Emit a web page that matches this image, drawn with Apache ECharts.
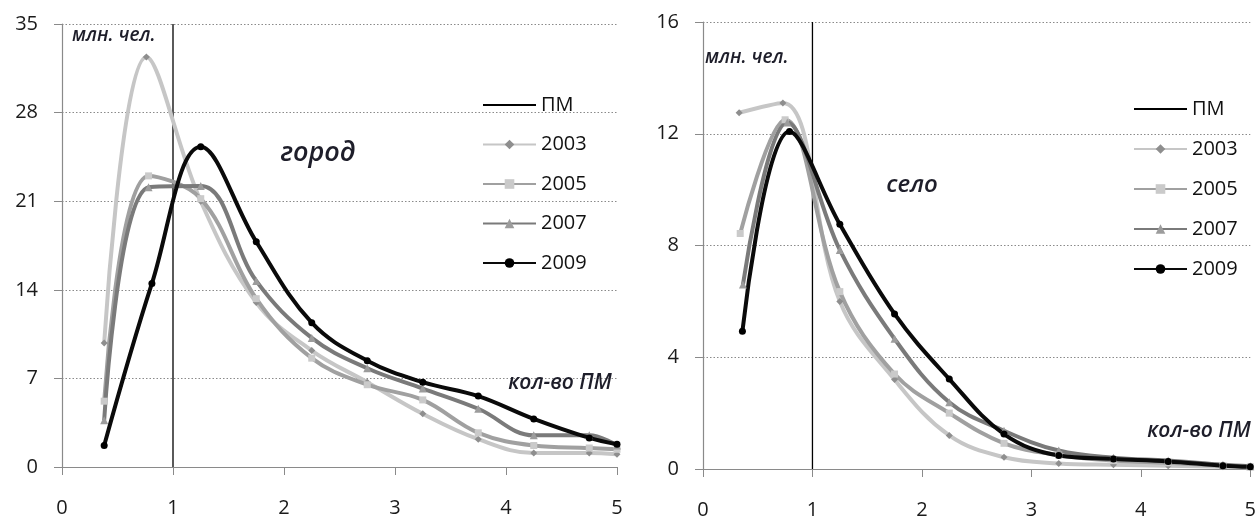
<!DOCTYPE html>
<html><head><meta charset="utf-8">
<script src="https://cdn.jsdelivr.net/npm/echarts@6/dist/echarts.min.js"></script>
<style>html,body{margin:0;padding:0;background:#fff}#c{width:1259px;height:521px}</style>
</head><body><div id="c"></div>
<script>
// ---- data ----
const years = ['2003', '2005', '2007', '2009'];
const pmName = 'ПМ';
const pmX = 1;
const cityYMax = 35, cityYStep = 7;
const villageYMax = 16, villageYStep = 4;
const xMax = 5, xStep = 1;

// город
const cityX2003 = [0.38, 0.76, 1.25, 1.75, 2.25, 2.75, 3.25, 3.75, 4.25, 4.75, 5];
const cityY2003 = [9.8, 32.4, 21.0, 13.0, 9.2, 6.7, 4.2, 2.2, 1.1, 1.1, 1.0];
const cityX2005 = [0.38, 0.78, 1.25, 1.75, 2.25, 2.75, 3.25, 3.75, 4.25, 4.75, 5];
const cityY2005 = [5.2, 23.0, 21.2, 13.3, 8.6, 6.5, 5.3, 2.7, 1.7, 1.5, 1.4];
const cityX2007 = [0.38, 0.78, 1.25, 1.75, 2.25, 2.75, 3.25, 3.75, 4.25, 4.75, 5];
const cityY2007 = [3.7, 22.1, 22.2, 14.7, 10.2, 7.8, 6.2, 4.6, 2.5, 2.5, 1.7];
const cityX2009 = [0.38, 0.81, 1.25, 1.75, 2.25, 2.75, 3.25, 3.75, 4.25, 4.75, 5];
const cityY2009 = [1.7, 14.5, 25.3, 17.8, 11.4, 8.4, 6.7, 5.6, 3.8, 2.3, 1.8];

// село
const villX2003 = [0.33, 0.73, 1.25, 1.75, 2.25, 2.75, 3.25, 3.75, 4.25, 4.75, 5];
const villY2003 = [12.75, 13.1, 6.0, 3.2, 1.2, 0.42, 0.2, 0.15, 0.12, 0.08, 0.06];
const villX2005 = [0.34, 0.75, 1.25, 1.75, 2.25, 2.75, 3.25, 3.75, 4.25, 4.75, 5];
const villY2005 = [8.43, 12.5, 6.35, 3.4, 2.0, 0.92, 0.5, 0.3, 0.22, 0.12, 0.08];
const villX2007 = [0.365, 0.77, 1.25, 1.75, 2.25, 2.75, 3.25, 3.75, 4.25, 4.75, 5];
const villY2007 = [6.6, 12.4, 7.84, 4.66, 2.39, 1.37, 0.66, 0.4, 0.3, 0.15, 0.1];
const villX2009 = [0.36, 0.79, 1.25, 1.75, 2.25, 2.75, 3.25, 3.75, 4.25, 4.75, 5];
const villY2009 = [4.93, 12.08, 8.76, 5.55, 3.22, 1.25, 0.48, 0.36, 0.27, 0.12, 0.08];

const labels = {
  unit: 'млн. чел.',
  city: 'город',
  village: 'село',
  xName: 'кол-во ПМ'
};

// ---- styles ----
const FONT = '"Open Sans", "Noto Sans", sans-serif';
const styles = {
  '2003': { line: '#c6c6c6', sym: 'diamond', symColor: '#8e8e8e', size: 7 },
  '2005': { line: '#a0a0a0', sym: 'rect', symColor: '#cacaca', size: 7 },
  '2007': { line: '#7a7a7a', sym: 'triangle', symColor: '#9c9c9c', size: 8 },
  '2009': { line: '#0a0a0a', sym: 'circle', symColor: '#000000', size: 7 }
};

function pairs(xs, ys) { return xs.map((x, i) => [x, ys[i]]); }

const cityData = { '2003': pairs(cityX2003, cityY2003), '2005': pairs(cityX2005, cityY2005),
  '2007': pairs(cityX2007, cityY2007), '2009': pairs(cityX2009, cityY2009) };
const villData = { '2003': pairs(villX2003, villY2003), '2005': pairs(villX2005, villY2005),
  '2007': pairs(villX2007, villY2007), '2009': pairs(villX2009, villY2009) };

function yearSeries(idx, dataMap) {
  return years.map(y => ({
    name: y, type: 'line', xAxisIndex: idx, yAxisIndex: idx,
    data: dataMap[y], smooth: 0.38, showSymbol: true, symbol: styles[y].sym,
    symbolSize: styles[y].size,
    lineStyle: { color: styles[y].line, width: 4 },
    itemStyle: { color: styles[y].symColor },
    emphasis: { disabled: true }, animation: false
  }));
}
function pmSeries(idx, ymax) {
  return {
    name: pmName, type: 'line', xAxisIndex: idx, yAxisIndex: idx,
    data: [[pmX, 0], [pmX, ymax]], symbol: 'none', showSymbol: false,
    lineStyle: { color: '#000', width: 1.3 }, itemStyle: { color: '#000' },
    emphasis: { disabled: true }, animation: false, z: 1
  };
}

function xAxis(idx) {
  return {
    type: 'value', gridIndex: idx, min: 0, max: xMax, interval: xStep,
    axisLine: { show: true, lineStyle: { color: '#8a8a8a', width: 1.2 } },
    axisTick: { show: true, length: 8, lineStyle: { color: '#8a8a8a' } },
    splitLine: { show: false },
    axisLabel: { margin: 31, fontSize: 20, color: '#1a1a1a', fontFamily: FONT }
  };
}
function yAxis(idx, max, step) {
  return {
    type: 'value', gridIndex: idx, min: 0, max: max, interval: step,
    axisLine: { show: true, lineStyle: { color: '#8a8a8a', width: 1.2 } },
    axisTick: { show: true, length: 8, lineStyle: { color: '#8a8a8a' } },
    splitLine: { show: true, lineStyle: { color: '#8a8a8a', type: [1.5, 2], width: 1 } },
    axisLabel: { margin: 24, fontSize: 20, color: '#1a1a1a', fontFamily: FONT }
  };
}

const legendData = [{ name: pmName, itemStyle: { opacity: 0 } }].concat(years.map(y => ({ name: y })));
function legend(left, top, gap) {
  return {
    orient: 'vertical', left: left, top: top, itemWidth: 53, itemHeight: 12,
    itemGap: gap, data: legendData, selectedMode: false,
    textStyle: { fontSize: 20, color: '#111', fontFamily: FONT, padding: [0, 0, 0, 0] }
  };
}

function txt(x, y, text, size, align) {
  return { type: 'text', x: x, y: y, z: 100,
    style: { text: text, font: 'italic 600 ' + size + 'px ' + FONT, fill: '#1e1e2a',
      align: align, verticalAlign: 'middle' } };
}

const chart = echarts.init(document.getElementById('c'), null, { renderer: 'canvas' });
chart.setOption({
  animation: false,
  backgroundColor: '#ffffff',
  grid: [
    { left: 62, top: 24, width: 555, height: 443 },
    { left: 703, top: 22, width: 550, height: 447 }
  ],
  xAxis: [xAxis(0), xAxis(1)],
  yAxis: [yAxis(0, cityYMax, cityYStep), yAxis(1, villageYMax, villageYStep)],
  legend: [legend(477, 90, 19.5), legend(1128, 94, 20)],
  series: [pmSeries(0, cityYMax)].concat(yearSeries(0, cityData))
    .concat([pmSeries(1, villageYMax)]).concat(yearSeries(1, villData)),
  graphic: [
    txt(72, 36, labels.unit, 19, 'left'),
    txt(705, 58, labels.unit, 19, 'left'),
    txt(318, 153, labels.city, 27, 'center'),
    txt(912, 185, labels.village, 24, 'center'),
    txt(560, 383, labels.xName, 21, 'center'),
    txt(1199, 431, labels.xName, 21, 'center')
  ]
});
</script>
</body></html>
